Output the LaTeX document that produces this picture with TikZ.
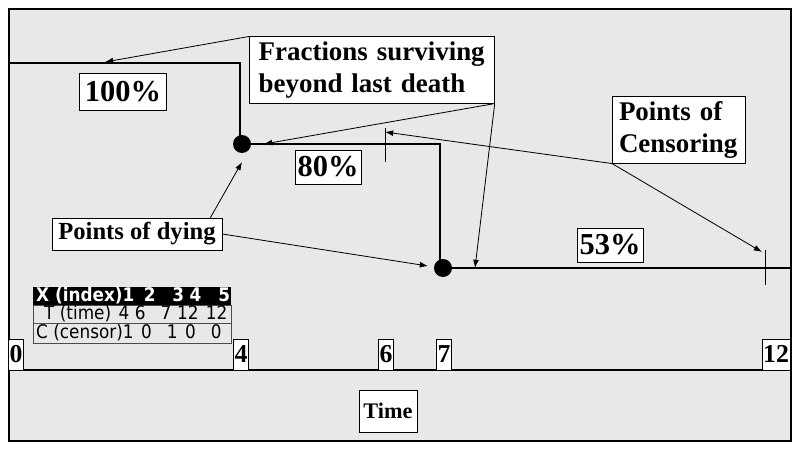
\documentclass[tikz,border=0pt]{standalone}
\usepackage{fontspec}
\setmainfont{Liberation Serif}
\newfontfamily\tabfont{DejaVu Sans Condensed}
\usetikzlibrary{arrows.meta}
\tikzset{
  lbl/.style={draw=black, fill=white, font=\bfseries, inner sep=2pt, align=left},
  tick/.style={draw=black, fill=white, font=\bfseries\fontsize{22}{24}\selectfont, inner sep=1pt, minimum height=0.93cm, minimum width=0.42cm, anchor=south},
  ptr/.style={-{Latex[length=7pt,width=5pt]}, line width=0.7pt},
  curve/.style={line width=1.5pt}
}
\begin{document}
\begin{tikzpicture}[x=0.03cm, y=-0.03cm]
        \useasboundingbox (0,0) rectangle (800,451);
        %frame
        \fill[white] (0,0) rectangle (800,451);
        \draw[fill=gray!18, line width=1.2pt] (9,9) rectangle (791,441);
        \draw[line width=1.2pt] (9,370) -- (791,370);

        %curve
        \draw[curve] (10,63) -- (240,63) -- (240,144);
        \draw[curve] (242,144) -- (440,144) -- (440,268);
        \draw[curve] (443,268) -- (790,268);
        \fill (242,144) circle (9) coordinate (d1);
        \fill (443,268) circle (9) coordinate (d2);
        \draw[thick] (385,128) -- (385,162);
        \draw[thick] (765,250) -- (765,285);

        %labels
        \node[lbl, font=\bfseries\fontsize{26}{28}\selectfont, minimum width=2.6cm, minimum height=1.1cm] (p100) at (123,92) {100\%};
        \node[lbl, font=\bfseries\fontsize{26}{28}\selectfont, minimum width=1.92cm, minimum height=1.02cm] (p80) at (328,167) {80\%};
        \node[lbl, font=\bfseries\fontsize{26}{28}\selectfont, minimum width=1.92cm, minimum height=1.02cm] (p53) at (610,245) {53\%};
        \node[lbl, font=\bfseries\fontsize{23}{28}\selectfont, minimum width=7.35cm, minimum height=2cm, text width=6.8cm] (frac) at (372,70)
          {Fractions surviving\\beyond last death};
        \node[lbl, font=\bfseries\fontsize{23}{28}\selectfont, minimum width=4cm, minimum height=2cm, text width=3.6cm] (cens) at (679,130)
          {Points of\\Censoring};
        \node[lbl, font=\bfseries\fontsize{21}{24}\selectfont, minimum width=5.1cm, minimum height=0.95cm] (dying) at (137,234) {Points of dying};

        %pointers
        \coordinate (c1) at (385,132);
        \coordinate (c2) at (762,252);
        \draw[ptr] (frac.north west) -- (105,62);
        \draw[ptr] (frac.south east) -- (264,144);
        \draw[ptr] (frac.south east) -- (475,268);
        \draw[ptr] (cens.south west) -- (c1);
        \draw[ptr] (cens.south west) -- (c2);
        \draw[ptr] (dying.north east) ++(-12,0) -- (242,162);
        \draw[ptr] (dying.east) -- (428,266);

        %table
        \fill[black] (33,287) rectangle (231,305);
        \draw[gray!60!black, fill=gray!18] (33,305) rectangle (231,343);
        \draw[gray!60!black] (33,323) -- (231,323);
        \node[anchor=west, white, font=\tabfont\bfseries\fontsize{16}{18}\selectfont, inner sep=0pt] (hdr) at (36,296)
          {X (index)1\hspace{0.5em}2\hspace{0.9em}3\hspace{0.3em}4\hspace{0.9em}5};
        \node[anchor=west, font=\tabfont\fontsize{16}{18}\selectfont, inner sep=0pt] (trow) at (44,314)
          {T (time)\hspace{0.4em}4\hspace{0.3em}6\hspace{0.8em}7\hspace{0.3em}12\hspace{0.4em}12};
        \node[anchor=west, font=\tabfont\fontsize{16}{18}\selectfont, inner sep=0pt] (crow) at (36,333)
          {C (censor)1\hspace{0.4em}0\hspace{0.8em}1\hspace{0.4em}0\hspace{0.8em}0};

        %axis ticks
        \foreach \x/\t in {16/0, 241/4, 386/6, 444/7, 776/12}
          \node[tick] (t\t) at (\x,370) {\t};
        \node[lbl, font=\bfseries\fontsize{19}{22}\selectfont, minimum width=1.6cm, minimum height=1.26cm, inner sep=4pt] (time) at (388,411) {Time};
\end{tikzpicture}
\end{document}
